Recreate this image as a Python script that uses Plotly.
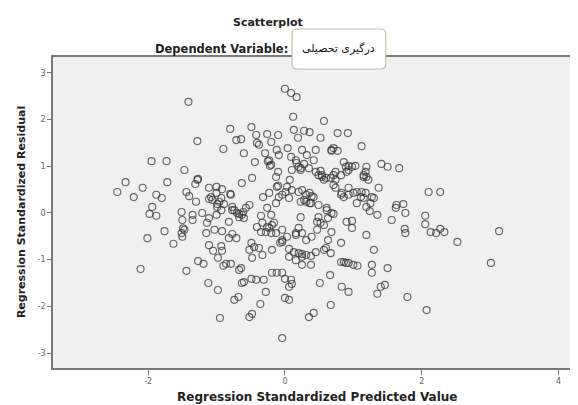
import plotly.graph_objects as go

# Regression standardized predicted value (x) and residual (y)
pred = [-1.41,0.00,0.09,0.17,0.12,0.57,-0.80,-0.49,-0.42,-0.26,-0.10,0.13,0.28,0.36,0.19,0.52,0.77,0.92,-1.28,-0.71,
        -0.64,-0.41,-0.20,1.12,-0.90,-0.60,-0.29,-0.12,0.04,-0.09,0.25,0.32,0.45,0.68,0.77,0.71,-1.95,-1.73,-0.38,0.09,
        -0.23,-1.47,-0.44,-0.25,-0.22,0.16,0.20,0.28,0.35,0.45,-0.10,-0.13,0.07,-0.48,-2.33,-2.45,-2.21,-2.08,-1.88,-1.80,
        -1.72,-1.94,-1.44,-1.40,-1.28,-1.31,-1.11,-1.00,-0.92,-1.08,-1.00,-0.93,-0.89,-0.99,-0.80,-0.63,-1.30,-0.52,-0.32,-0.10,
        0.01,0.03,0.20,0.31,0.36,0.42,0.28,0.36,0.52,0.54,0.60,0.57,0.49,0.71,0.74,0.67,0.74,0.86,0.93,0.98,
        1.03,0.89,0.93,1.18,1.15,1.19,1.22,1.19,1.41,1.50,1.67,1.37,0.93,1.05,1.12,1.18,0.71,0.74,0.82,0.86,
        0.93,1.11,1.15,1.27,1.30,1.05,1.25,1.19,2.10,2.27,1.63,1.73,0.49,0.61,0.23,0.31,0.38,-1.27,-0.79,0.10,
        -0.12,-0.20,0.17,0.10,0.23,0.82,0.90,0.25,0.83,1.00,
        -1.98,-1.88,-1.51,-1.50,-1.35,-1.35,-1.21,-1.14,-1.11,-1.00,-0.93,-0.99,-1.06,-0.82,-0.74,-0.77,-0.70,-0.63,-0.60,-0.35,
        -0.33,-0.16,-0.57,-0.23,-0.13,-0.04,0.06,0.23,0.61,0.68,0.71,1.24,1.35,1.56,1.62,1.76,2.05,-0.67,-0.26,-0.20,
        -0.19,0.47,0.52,0.57,0.90,0.98,0.49,
        -2.01,-1.76,-1.63,-1.51,-1.47,-1.50,-1.15,-1.03,-1.11,-1.05,-0.93,-0.92,-0.98,-0.92,-0.77,-0.71,-0.82,-0.49,-0.45,-0.38,
        -0.52,-0.48,-0.33,-0.23,-0.28,-0.20,-0.19,-0.07,-0.04,0.03,0.06,0.13,0.20,0.31,0.25,0.38,0.45,0.06,0.16,0.20,
        0.25,0.39,0.47,0.31,0.98,0.68,0.63,0.82,1.19,1.30,0.57,0.67,2.05,1.75,1.76,2.13,2.21,2.27,2.33,2.52,
        3.13,-0.13,-0.04,0.16,-0.35,0.60,
        -2.11,-1.44,-1.27,-1.19,-1.12,-0.98,-0.95,-0.86,-0.79,-0.90,-0.67,-0.64,-0.63,-0.60,-0.74,-0.68,-0.52,-0.48,-0.36,-0.04,
        -0.49,-0.42,-0.31,-0.28,-0.19,-0.12,-0.04,0.00,0.09,0.10,0.06,0.00,0.06,0.25,0.38,0.86,0.93,1.00,1.06,0.82,
        1.27,1.27,1.50,0.66,0.51,0.83,0.93,1.40,1.46,1.35,1.79,0.67,2.07,0.42,0.35,3.01,
        0.23,0.39,-0.67,-0.61,-0.26,-0.04,0.25,-1.49,0.54,0.68,1.15,0.16,0.89,-0.77,-1.11,-0.96,0.42,-0.09,-0.41,0.63]
resid = [2.38,2.66,2.57,2.48,2.06,1.97,1.80,1.84,1.67,1.69,1.67,1.78,1.76,1.73,1.61,1.61,1.71,1.71,1.54,1.56,
         1.58,1.50,1.52,1.43,1.37,1.28,1.28,1.35,1.39,1.24,1.35,1.24,1.35,1.33,1.33,1.39,1.11,1.11,1.46,1.20,
         1.13,0.92,1.09,1.11,1.01,1.13,0.99,1.05,0.96,0.88,0.88,0.77,0.71,0.75,0.66,0.45,0.34,0.54,0.39,0.32,
         0.66,0.13,0.45,0.36,0.71,0.62,0.54,0.56,0.51,0.34,0.43,0.32,0.19,0.19,0.41,0.64,0.24,0.17,0.34,0.58,
         0.45,0.56,0.45,0.39,0.43,0.34,0.28,0.21,0.90,0.81,0.75,0.71,0.81,0.81,0.88,0.75,0.71,1.09,1.01,0.99,
         1.01,0.99,0.92,0.88,0.81,0.77,0.71,0.99,1.05,0.99,0.96,0.54,0.54,0.45,0.45,0.43,0.60,0.54,0.39,0.34,
         0.39,0.34,0.32,0.34,0.32,0.21,0.21,0.13,0.45,0.45,0.17,0.19,0.17,0.11,0.24,0.24,0.21,0.73,0.39,0.49,
         0.56,1.03,1.07,0.92,0.92,0.81,0.88,0.49,0.43,0.43,
         -0.02,-0.06,0.02,-0.15,-0.04,-0.15,0.00,-0.21,-0.11,-0.04,0.06,0.13,0.28,-0.19,0.06,0.13,0.00,-0.04,-0.11,-0.06,
         -0.21,-0.21,0.11,0.43,0.21,0.39,0.32,-0.09,0.06,0.00,-0.02,0.04,-0.04,-0.15,0.11,0.00,-0.06,-0.09,0.11,-0.04,
         -0.26,-0.19,-0.21,-0.26,-0.19,-0.17,-0.09,
         -0.54,-0.39,-0.66,-0.43,-0.36,-0.51,-0.43,-0.36,-0.69,-0.81,-0.71,-0.81,-0.96,-0.39,-0.45,-0.54,-0.54,-0.64,-0.73,-0.75,
         -0.79,-0.96,-0.90,-0.32,-0.41,-0.43,-0.79,-0.64,-0.58,-0.51,-0.77,-0.84,-0.86,-0.90,-0.94,-0.92,-0.84,-0.94,-1.01,-0.32,
         -0.43,-0.51,-0.36,-0.58,-0.32,-0.41,-0.58,-0.64,-0.47,-0.79,-0.79,-0.86,-0.24,-0.34,-0.43,-0.41,-0.43,-0.34,-0.41,-0.62,
         -0.39,-0.43,-0.36,-0.43,-0.41,-0.75,
         -1.20,-1.24,-1.03,-1.09,-1.50,-1.65,-2.25,-1.09,-1.09,-1.13,-1.22,-1.18,-1.50,-1.48,-1.86,-1.80,-2.23,-2.16,-1.95,-2.68,
         -1.41,-1.43,-1.43,-1.69,-1.28,-1.28,-1.28,-1.41,-1.43,-1.52,-1.58,-1.82,-1.86,-1.11,-1.11,-1.05,-1.07,-1.11,-1.13,-1.05,
         -1.11,-1.28,-1.18,-1.33,-1.50,-1.58,-1.69,-1.58,-1.54,-1.73,-1.80,-1.97,-2.08,-2.14,-2.23,-1.07,
         0.96,0.36,-0.02,0.02,-0.30,-0.62,-0.88,-0.33,0.77,1.35,0.77,-0.47,-1.07,0.06,0.30,0.24,1.13,0.34,-0.30,-0.11]

x_ticks = [-2, 0, 2, 4]
y_ticks = [-3, -2, -1, 0, 1, 2, 3]

# the page body adds an 8px margin, so the figure is drawn 8px smaller and
# every reference pixel position is shifted by that offset
OFF = 8
W, H = 578 - OFF, 405 - OFF
L, R, T, B = 53 - OFF, 575 - OFF, 57 - OFF, 368 - OFF

FONT = "DejaVu Sans, Verdana, sans-serif"

fig = go.Figure()
fig.add_trace(go.Scatter(
    x=pred, y=resid, mode="markers",
    marker=dict(symbol="circle-open", size=7, color="rgba(50,50,50,0.72)",
                line=dict(width=1.15, color="rgba(50,50,50,0.72)")),
    showlegend=False, hoverinfo="skip"))

def px_x(p):
    return (p - OFF - L) / (R - L)

def px_y(p):
    return (B - (p - OFF)) / (B - T)

# rounded white box holding the dependent variable name
bx0, bx1, by0, by1, rr = 293, 387, 29, 69, 5
path = (f"M {px_x(bx0+rr)},{px_y(by0)} L {px_x(bx1-rr)},{px_y(by0)} "
        f"Q {px_x(bx1)},{px_y(by0)} {px_x(bx1)},{px_y(by0+rr)} "
        f"L {px_x(bx1)},{px_y(by1-rr)} Q {px_x(bx1)},{px_y(by1)} {px_x(bx1-rr)},{px_y(by1)} "
        f"L {px_x(bx0+rr)},{px_y(by1)} Q {px_x(bx0)},{px_y(by1)} {px_x(bx0)},{px_y(by1-rr)} "
        f"L {px_x(bx0)},{px_y(by0+rr)} Q {px_x(bx0)},{px_y(by0)} {px_x(bx0+rr)},{px_y(by0)} Z")
fig.add_shape(type="path", path=path, xref="paper", yref="paper",
              fillcolor="white", line=dict(color="#b9c7ad", width=1.2), layer="above")

ann = [
    dict(text="<b>Scatterplot</b>", x=px_x(269), y=px_y(22), font=dict(size=11, color="#222")),
    dict(text="<b>Dependent Variable:</b>", x=px_x(291), y=px_y(49), xanchor="right",
         font=dict(size=11.5, color="#222")),
    dict(text="درگیری تحصیلی", x=px_x(340), y=px_y(48), font=dict(size=11, color="#111",
         family="DejaVu Sans, Noto Sans, sans-serif")),
    dict(text="<b>Regression Standardized Predicted Value</b>", x=px_x(318), y=px_y(397),
         font=dict(size=12, color="#222")),
    dict(text="<b>Regression Standardized Residual</b>", x=px_x(21), y=px_y(212), textangle=-90,
         font=dict(size=11, color="#222")),
]
for a in ann:
    a.setdefault("xanchor", "center")
    fig.add_annotation(xref="paper", yref="paper", showarrow=False, yanchor="middle", **a)

fig.update_layout(
    width=W, height=H,
    margin=dict(l=L, r=W - R, t=T, b=H - B),
    paper_bgcolor="white", plot_bgcolor="#f0f0f0",
    font=dict(family=FONT),
)
fig.update_xaxes(range=[-3.39, 4.21], tickvals=x_ticks, ticktext=[str(v) for v in x_ticks],
                 showgrid=False, zeroline=False, showline=True, linecolor="#7a7a7a", linewidth=1.5,
                 mirror=True, ticks="outside", ticklen=5, tickcolor="#7a7a7a",
                 tickfont=dict(size=8, color="#666"))
fig.update_yaxes(range=[-3.32, 3.34], tickvals=y_ticks, ticktext=[str(v) for v in y_ticks],
                 showgrid=False, zeroline=False, showline=True, linecolor="#7a7a7a", linewidth=1.5,
                 mirror=True, ticks="outside", ticklen=4, tickcolor="#7a7a7a",
                 tickfont=dict(size=8, color="#666"))

fig.write_html("out.html")
